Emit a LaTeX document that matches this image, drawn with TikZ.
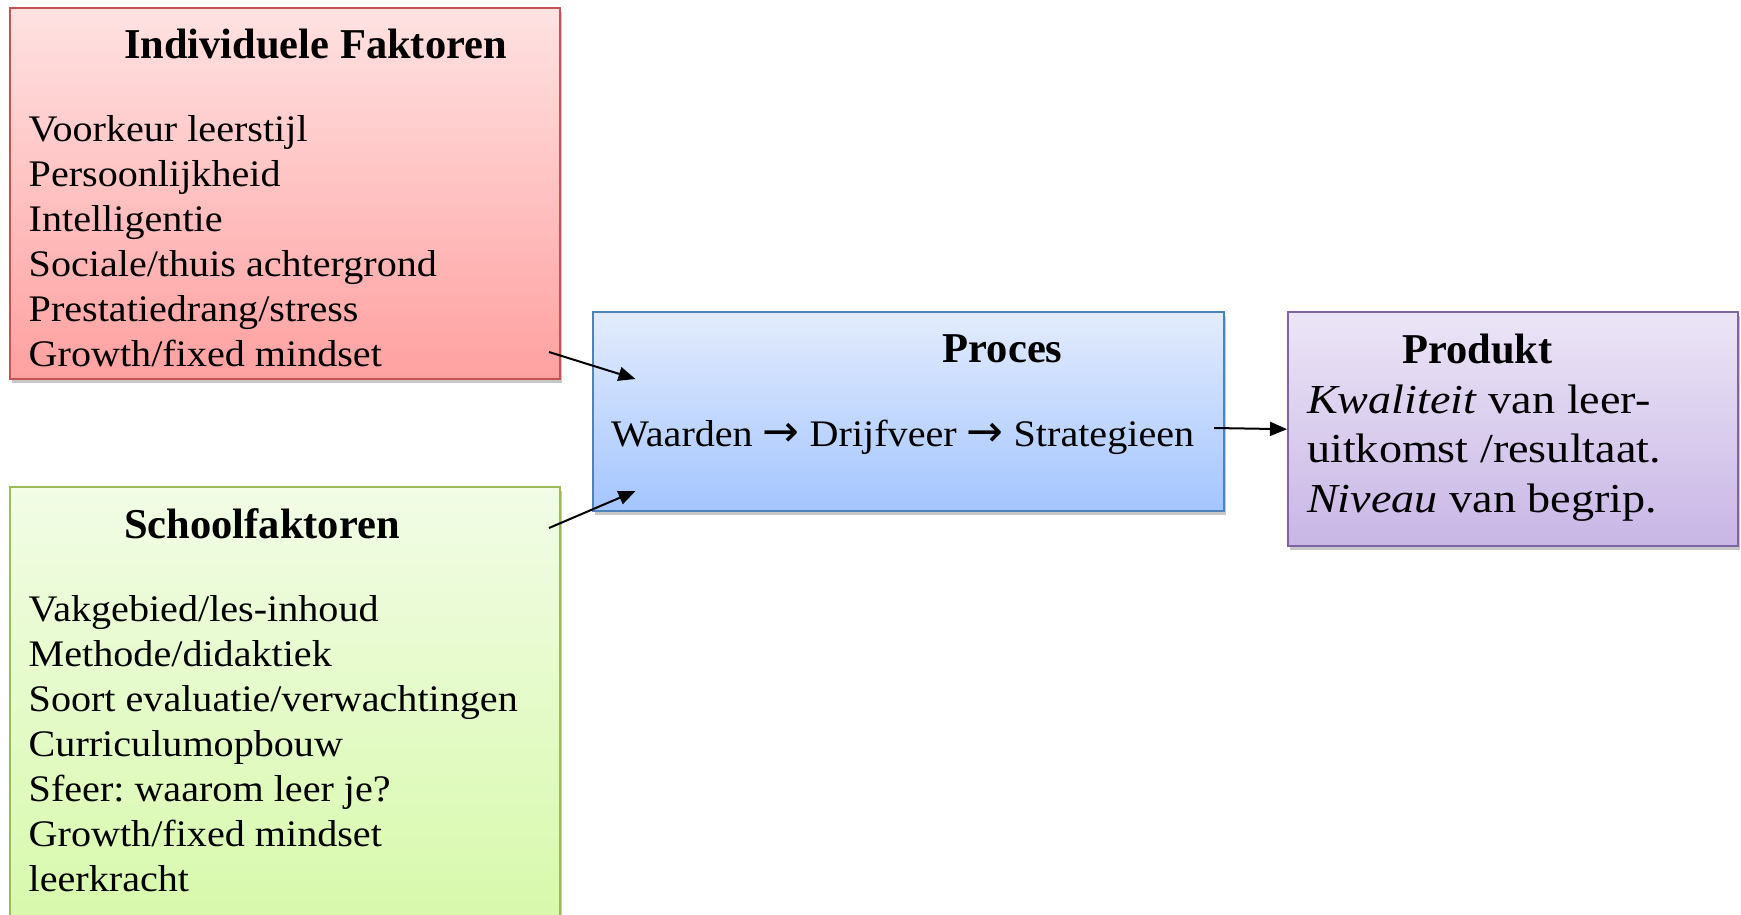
\documentclass[tikz,border=0pt]{standalone}
\usepackage{fontspec}
\setmainfont{Liberation Serif}
\newfontfamily\bodyf[FakeStretch=1.07]{Liberation Serif}
\newfontfamily\prodf[FakeStretch=1.12]{Liberation Serif}
\newfontfamily\arrf{DejaVu Sans}
\usetikzlibrary{arrows.meta,shadows}
\definecolor{redb}{RGB}{196,84,82}
\definecolor{redt}{RGB}{255,226,226}
\definecolor{redbt}{RGB}{255,160,160}
\definecolor{grnb}{RGB}{155,187,89}
\definecolor{grnt}{RGB}{242,252,230}
\definecolor{grnbt}{RGB}{214,249,168}
\definecolor{blub}{RGB}{79,129,189}
\definecolor{blut}{RGB}{227,236,253}
\definecolor{blubt}{RGB}{164,197,255}
\definecolor{purb}{RGB}{128,100,162}
\definecolor{purt}{RGB}{236,229,246}
\definecolor{purbt}{RGB}{200,182,230}
\newcommand{\bigarr}{{\fontsize{44}{44}\arrf →}}
\frenchspacing
\begin{document}
\begin{tikzpicture}[x=1pt,y=-1pt,
  box/.style={draw, line width=2.4pt, rectangle, anchor=north west, inner sep=0pt,
    drop shadow={shadow xshift=2pt, shadow yshift=-4pt, opacity=0.22, fill=black}},
  ttl/.style={font=\fontsize{42.5}{50}\selectfont\bfseries, anchor=base, inner sep=0pt},
  lst/.style={font=\fontsize{37.5}{45}\selectfont\bodyf, align=left, anchor=base west, inner sep=0pt},
  plst/.style={font=\fontsize{41.2}{49.5}\selectfont\prodf, align=left, anchor=base west, inner sep=0pt},
  con/.style={line width=2pt, -{Triangle[length=17pt,width=14pt]}}]
\useasboundingbox (0,0) rectangle (1741,915);
\node[box, draw=redb, top color=redt, bottom color=redbt, minimum width=550pt, minimum height=371pt] (indiv) at (9,7) {};
\node[box, draw=grnb, top color=grnt, bottom color=grnbt, minimum width=550pt, minimum height=454pt] (school) at (9,486) {};
\node[box, draw=blub, top color=blut, bottom color=blubt, minimum width=631pt, minimum height=199pt] (proc) at (592,311) {};
\node[box, draw=purb, top color=purt, bottom color=purbt, minimum width=450pt, minimum height=234pt] (prod) at (1287,311) {};

\node[ttl] (t1) at (315.5,58.3) {Individuele Faktoren};
\node[ttl] (t2) at (262,538.3) {Schoolfaktoren};
\node[ttl] (t3) at (1002.6,362.7) {Proces};
\node[ttl] (t4) at (1477.5,363.3) {Produkt};

% anchor "base" of a multi-line node is the baseline of its last line
\node[lst] (l1) at (28.5,366.7) {Voorkeur leerstijl\\Persoonlijkheid\\Intelligentie\\Sociale/thuis achtergrond\\Prestatiedrang/stress\\Growth/fixed mindset};
\node[lst] (l2) at (28.5,891.7) {Vakgebied/les-inhoud\\Methode/didaktiek\\Soort evaluatie/verwachtingen\\Curriculumopbouw\\Sfeer: waarom leer je?\\Growth/fixed mindset\\leerkracht};
\node[lst] (l3) at (611,446.7) {Waarden \bigarr{} Drijfveer \bigarr{} Strategieen};
\node[plst] (l4) at (1307,512.3) {\textit{Kwaliteit} van leer-\\uitkomst /resultaat.\\\textit{Niveau} van begrip.};

\coordinate (s1) at (549,352);
\coordinate (e1) at (635.5,379);
\coordinate (s2) at (549,528);
\coordinate (e2) at (635.5,491);
\coordinate (s3) at (1214,428);
\draw[con] (s1) -- (e1);
\draw[con] (s2) -- (e2);
\draw[con] (s3) -- (prod.west);
\end{tikzpicture}
\end{document}
